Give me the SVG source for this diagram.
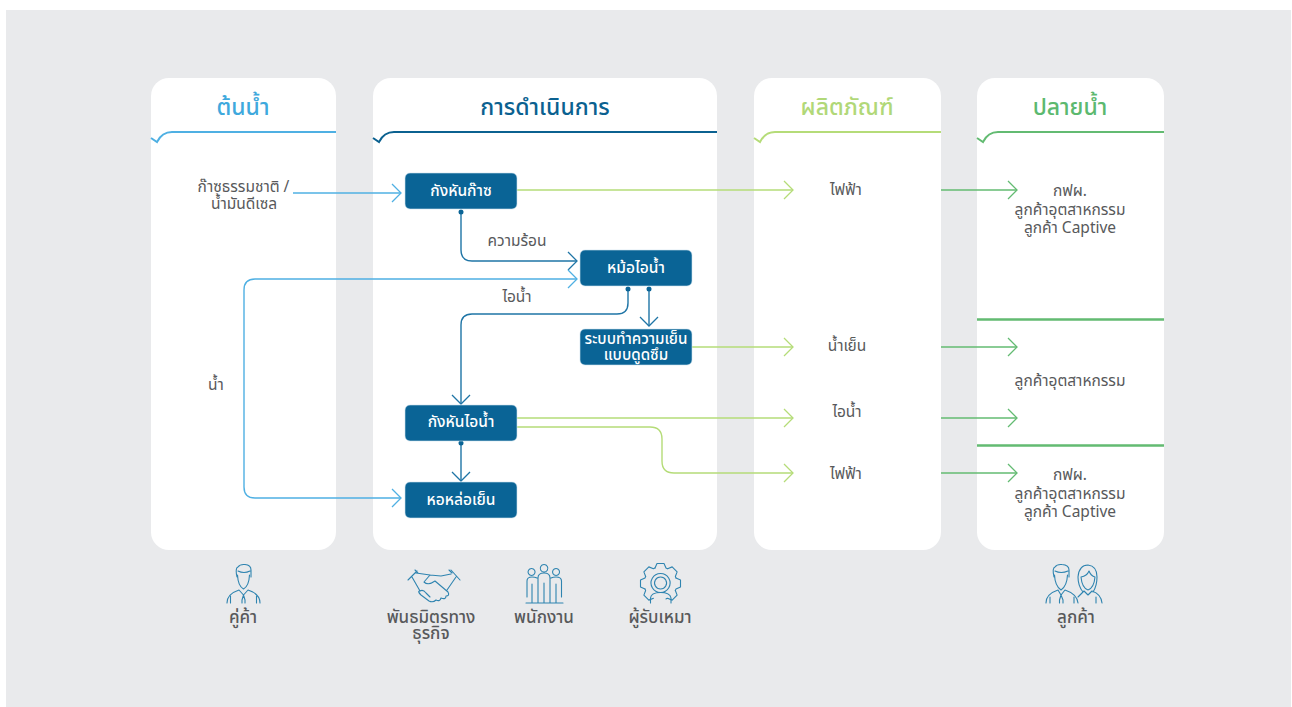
<svg xmlns="http://www.w3.org/2000/svg" width="1292" height="707" viewBox="0 0 1292 707">
<style>
text{font-family:"Noto Sans Thai","Noto Sans","Liberation Sans",sans-serif;text-anchor:middle;fill:#58595b;font-size:15.500px}
.h{font-size:23px;font-weight:500}
.n{fill:#0a6496;stroke:#cfe3ee;stroke-width:.6}
.nt{fill:#fff;font-weight:500}
.b{font-size:17px;font-weight:500}
.c{fill:none;stroke-width:1.4}
.dk{stroke:#1f75a6}.sk{stroke:#4fb0e3}.lg{stroke:#b5dc78}.gr{stroke:#63bb72}
.i{fill:none;stroke:#2f84b0;stroke-width:1.1;stroke-linecap:round;stroke-linejoin:round}
</style>
<defs>
<marker id="aDk" markerUnits="userSpaceOnUse" markerWidth="12" markerHeight="22" refX="10" refY="10" orient="auto-start-reverse"><path d="M1,1L10,10L1,19" fill="none" stroke="#1f75a6" stroke-width="1.3"/></marker>
<marker id="aSk" markerUnits="userSpaceOnUse" markerWidth="12" markerHeight="22" refX="10" refY="10" orient="auto-start-reverse"><path d="M1,1L10,10L1,19" fill="none" stroke="#4fb0e3" stroke-width="1.3"/></marker>
<marker id="aLg" markerUnits="userSpaceOnUse" markerWidth="12" markerHeight="22" refX="10" refY="10" orient="auto-start-reverse"><path d="M1,1L10,10L1,19" fill="none" stroke="#b5dc78" stroke-width="1.3"/></marker>
<marker id="aGr" markerUnits="userSpaceOnUse" markerWidth="12" markerHeight="22" refX="10" refY="10" orient="auto-start-reverse"><path d="M1,1L10,10L1,19" fill="none" stroke="#63bb72" stroke-width="1.3"/></marker>
<path id="tooth" d="M-5.500,-15.500L-3.500,-20H3.500L5.500,-15.500Q6.500,-15 7.070,-14.850"/>
</defs>
<rect width="1292" height="707" fill="#fff"/>
<rect x="6" y="10" width="1285" height="697" fill="#e9eaec"/>
<g id="panel-source"><rect x="151" y="78" width="185" height="472" rx="18" fill="#fff"/><path d="M151,138L157,142C160,136 164,132 172,132H336" fill="none" stroke="#4fb0e3" stroke-width="2"/><text class="h" x="243" y="115" style="fill:#3fa9dd">ต้นน้ำ</text></g>
<g id="panel-ops"><rect x="373" y="78" width="344" height="472" rx="18" fill="#fff"/><path d="M373,138L379,142C382,136 386,132 394,132H717" fill="none" stroke="#0b6190" stroke-width="2"/><text class="h" x="545" y="115" style="fill:#0b6190">การดำเนินการ</text></g>
<g id="panel-product"><rect x="754" y="78" width="187" height="472" rx="18" fill="#fff"/><path d="M754,138L760,142C763,136 767,132 775,132H941" fill="none" stroke="#b5dc78" stroke-width="2"/><text class="h" x="847" y="115" style="fill:#b1d878">ผลิตภัณฑ์</text></g>
<g id="panel-down"><rect x="977" y="78" width="187" height="472" rx="18" fill="#fff"/><path d="M977,138L983,142C986,136 990,132 998,132H1164" fill="none" stroke="#63bb72" stroke-width="2"/><text class="h" x="1070" y="115" style="fill:#5cb96f">ปลายน้ำ</text>
<path d="M977,319.500H1164M977,445.500H1164" stroke="#63bb72" stroke-width="2.500" fill="none"/></g>
<g id="connectors">
<path class="c sk" marker-end="url(#aSk)" d="M293,193H401"/>
<path class="c lg" marker-end="url(#aLg)" d="M517,190H793"/>
<path class="c gr" marker-end="url(#aGr)" d="M941,190H1017"/>
<path class="c dk" marker-end="url(#aDk)" d="M461,212V250Q461,261 472,261H577"/>
<path class="c sk" marker-start="url(#aSk)" marker-end="url(#aSk)" d="M577,279H255Q244,279 244,290V487Q244,498 255,498H401"/>
<path class="c dk" marker-end="url(#aDk)" d="M628,289V303Q628,314 617,314H472Q461,314 461,325V404"/>
<path class="c dk" marker-end="url(#aDk)" d="M649,289V326"/>
<path class="c lg" marker-end="url(#aLg)" d="M692,347H793"/>
<path class="c lg" marker-end="url(#aLg)" d="M517,418H793"/>
<path class="c lg" marker-end="url(#aLg)" d="M517,427H650Q662,427 662,439V461Q662,473 674,473H793"/>
<path class="c dk" marker-end="url(#aDk)" d="M461,443V481"/>
<path class="c gr" marker-end="url(#aGr)" d="M941,347H1017"/>
<path class="c gr" marker-end="url(#aGr)" d="M941,418H1017"/>
<path class="c gr" marker-end="url(#aGr)" d="M941,473H1017"/>
<g fill="#0a6496"><circle cx="461" cy="212" r="2.500"/><circle cx="628" cy="289" r="2.500"/><circle cx="649" cy="289" r="2.500"/><circle cx="461" cy="443" r="2.500"/></g>
</g>
<g id="node-gas-turbine"><rect class="n" x="405" y="173" width="112" height="36" rx="5"/><text class="nt" x="461" y="196">กังหันก๊าซ</text></g>
<g id="node-boiler"><rect class="n" x="580" y="250" width="112" height="36" rx="5"/><text class="nt" x="636" y="273">หม้อไอน้ำ</text></g>
<g id="node-chiller"><rect class="n" x="580" y="329" width="112" height="36" rx="5"/><text class="nt" x="636" y="344" style="font-size:15.200px">ระบบทำความเย็น</text><text class="nt" x="636" y="360" style="font-size:15.200px">แบบดูดซึม</text></g>
<g id="node-steam-turbine"><rect class="n" x="405" y="405" width="112" height="36" rx="5"/><text class="nt" x="461" y="427">กังหันไอน้ำ</text></g>
<g id="node-cooling-tower"><rect class="n" x="405" y="482" width="112" height="36" rx="5"/><text class="nt" x="461" y="505">หอหล่อเย็น</text></g>
<g id="labels">
<text x="243.500" y="192">ก๊าซธรรมชาติ /</text><text x="244" y="209">น้ำมันดีเซล</text>
<text x="216" y="390">น้ำ</text>
<text x="517" y="246">ความร้อน</text>
<text x="517" y="302">ไอน้ำ</text>
<text x="846" y="195">ไฟฟ้า</text>
<text x="847" y="351">น้ำเย็น</text>
<text x="847" y="417">ไอน้ำ</text>
<text x="846" y="479">ไฟฟ้า</text>
<text x="1070" y="196">กฟผ.</text><text x="1070" y="215">ลูกค้าอุตสาหกรรม</text><text x="1070" y="233">ลูกค้า Captive</text>
<text x="1070" y="386">ลูกค้าอุตสาหกรรม</text>
<text x="1070" y="480">กฟผ.</text><text x="1070" y="499">ลูกค้าอุตสาหกรรม</text><text x="1070" y="517">ลูกค้า Captive</text>
</g>
<g id="stakeholder-supplier"><path class="i" d="M237,577Q235,568 238,567Q240,564 245,564.500Q251,565 251,570V577M238,571Q244,574 250,571M237.500,575Q238,586 243.500,589Q249,586 249.500,575M227,603Q227,594 239,590L243.500,595L248,590Q260,594 260,603M243.500,595L242,600V603M243.500,595L245,600V603M230.500,596V603M256.500,596V603"/><text class="b" x="243" y="623">คู่ค้า</text></g>
<g id="stakeholder-partner"><path class="i" d="M408,580L417,571M415,570L418,573M412,577L420,591M416,573L430,575L441,576L451,574M430,575L424,582Q428,586 435,581L448,592Q450,596 446,596Q446,600 441,598Q440,602 436,600Q433,603 429,601L421,595Q417,591 420,591Q423,589 426,593L430,597M451,570L460,580M449,570L452,573M456,577L447,590"/><text class="b" x="431" y="623">พันธมิตรทาง</text><text class="b" x="431" y="639">ธุรกิจ</text></g>
<g id="stakeholder-staff"><path class="i" d="M526,603H563M531.500,568.500a3.500,3.500 0 1,0 .1,0ZM544,564.500a3.800,3.800 0 1,0 .1,0ZM556,568.500a3.500,3.500 0 1,0 .1,0ZM527,597V581Q527,577 532,577Q535,577 537,578M538,603V578Q538,573 544,573Q550,573 550,578V603M544,583V603M532,584V603M556,584V603M561.500,597V581Q561.500,577 556,577Q553,577 551,578"/><text class="b" x="544" y="623">พนักงาน</text></g>
<g id="stakeholder-contractor"><g class="i" transform="translate(660.500 583.500)"><use href="#tooth"/><use href="#tooth" transform="rotate(45)"/><use href="#tooth" transform="rotate(90)"/><use href="#tooth" transform="rotate(135)"/><use href="#tooth" transform="rotate(-45)"/><use href="#tooth" transform="rotate(-90)"/><use href="#tooth" transform="rotate(-135)"/></g><path class="i" d="M660.500,573.500a9.500,9.500 0 1,0 .1,0ZM660.500,577a6,6 0 1,0 .1,0ZM650.500,603V598Q651,592.500 660.500,592.500Q670,592.500 671,598V603"/><text class="b" x="660" y="623">ผู้รับเหมา</text></g>
<g id="stakeholder-customer"><path class="i" d="M1054,577Q1052,568 1055,567Q1057,564 1062,564.500Q1069,565 1069,570V577M1055,571Q1061,574 1068,571M1054.500,575Q1055,586 1061,590Q1067,586 1067.500,575M1046,603Q1046,594 1058,590L1061,595L1065,590Q1077,594 1078,603M1061,595L1059.500,600V603M1061,595L1063,600V603M1050,597V603M1074,597V603M1083,592Q1078,586 1078,577Q1079,565 1088,565Q1097,566 1097,577Q1097,586 1093,592M1081,577Q1087,576 1089,571Q1091,576 1095,577Q1094,588 1088,590Q1082,588 1081,577ZM1078,597L1084,591L1088,595L1092,591Q1101,594 1102,603M1096,597V603"/><text class="b" x="1076" y="623">ลูกค้า</text></g>
</svg>
